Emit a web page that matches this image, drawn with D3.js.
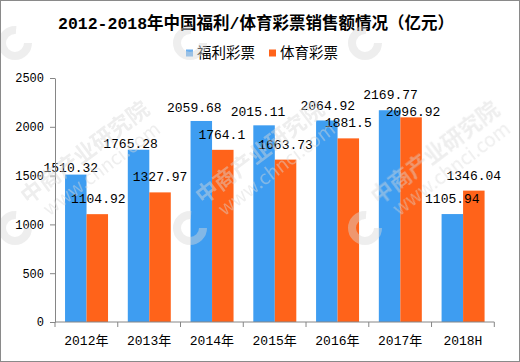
<!DOCTYPE html>
<html>
<head>
<meta charset="utf-8">
<script src="https://cdn.jsdelivr.net/npm/d3@7"></script>
<style>
  body { margin: 0; background: #fff; }
  text { font-family: "Liberation Mono", "Noto Sans CJK SC", monospace; fill: #000; }
  .cjk { font-family: "Noto Sans CJK SC", sans-serif; }
  .axis path, .axis line { stroke: #868686; }
  .wm text { fill: #d9d9d9; font-family: "Noto Sans CJK SC", sans-serif; }
</style>
</head>
<body>
<div id="chart"></div>
<script>
var years = ["2012年", "2013年", "2014年", "2015年", "2016年", "2017年", "2018H"];
var series = ["福利彩票", "体育彩票"];
var welfare = [1510.32, 1765.28, 2059.68, 2015.11, 2064.92, 2169.77, 1105.94];
var sports = [1104.92, 1327.97, 1764.1, 1663.73, 1881.5, 2096.92, 1346.04];
var yTicks = [0, 500, 1000, 1500, 2000, 2500];
var colors = ["#3e9df1", "#ff631a"];

// the original chart moved some value labels by hand, these are the nudges (px)
var welfareNudge = [[-5, 8], [-8, 9], [-7, 2], [-6, 2], [1, 0], [1, 0], [0, 0]];
var sportsNudge = [[1, 0], [0, 0], [-1, 0], [0, 0], [0, 0], [2, 10], [0, 0]];

var W = 520, H = 362;
var svg = d3.select("#chart").append("svg").attr("width", W).attr("height", H);

var x0 = d3.scaleBand().domain(years).range([55, 494.3]);
var bw = x0.bandwidth();
var x1 = d3.scaleBand().domain(series).range([bw * 0.16, bw * 0.845]);
var y = d3.scaleLinear().domain([0, 2500]).range([322, 78]);

// title + legend
svg.append("text").attr("x", 256).attr("y", 23).attr("dy", "0.35em")
  .attr("text-anchor", "middle").style("font-size", "16.5px").style("font-weight", "bold")
  .text("2012-2018年中国福利/体育彩票销售额情况（亿元）");

var legend = svg.append("g").selectAll("g").data(series).enter().append("g")
  .attr("transform", function(d, i) { return "translate(" + (186 + i * 83) + ",53)"; });
legend.append("rect").attr("x", 0).attr("y", -3.5).attr("width", 7).attr("height", 7)
  .attr("fill", function(d, i) { return i == 0 ? "#6aaeee" : colors[1]; });
legend.append("text").attr("class", "cjk").attr("x", 11).attr("dy", "0.36em")
  .style("font-size", "14.5px").text(function(d) { return d; });

// bars
var rows = years.map(function(yr, i) {
  return { year: yr, vals: [welfare[i], sports[i]], nudge: [welfareNudge[i], sportsNudge[i]] };
});

var groups = svg.append("g").selectAll("g").data(rows).enter().append("g")
  .attr("transform", function(d) { return "translate(" + x0(d.year) + ",0)"; });

groups.selectAll("rect").data(function(d) { return d.vals; }).enter().append("rect")
  .attr("x", function(d, i) { return x1(series[i]); })
  .attr("width", x1.bandwidth())
  .attr("y", function(d) { return y(d); })
  .attr("height", function(d) { return y(0) - y(d); })
  .attr("fill", function(d, i) { return colors[i]; });

// axes
var yAxis = svg.append("g").attr("class", "axis").attr("transform", "translate(55,0)")
  .call(d3.axisLeft(y).tickValues(yTicks).tickFormat(d3.format("d"))
    .tickSize(5).tickSizeOuter(0).tickPadding(6));
yAxis.selectAll("text").style("font-size", "12px").style("fill", "#000");

var xg = svg.append("g").attr("class", "axis");
xg.append("line").attr("x1", x0.range()[0]).attr("x2", x0.range()[1])
  .attr("y1", y(0)).attr("y2", y(0));
var edges = years.map(function(d) { return x0(d); }).concat([x0.range()[1]]);
xg.selectAll(".tk").data(edges).enter().append("line")
  .attr("x1", function(d) { return d; }).attr("x2", function(d) { return d; })
  .attr("y1", y(0)).attr("y2", y(0) + 5);
xg.selectAll("text").data(years).enter().append("text")
  .attr("x", function(d) { return x0(d) + bw / 2; }).attr("y", 340).attr("dy", "0.35em")
  .attr("text-anchor", "middle").style("font-size", "13px")
  .text(function(d) { return d; });

// value labels
groups.selectAll("text.val").data(function(d) {
    return d.vals.map(function(v, i) { return { v: v, i: i, n: d.nudge[i] }; });
  }).enter().append("text").attr("class", "val")
  .attr("x", function(d) { return x1(series[d.i]) + x1.bandwidth() / 2 + d.n[0]; })
  .attr("y", function(d) { return y(d.v) - 15.5 + d.n[1]; })
  .attr("dy", "0.35em").attr("text-anchor", "middle").style("font-size", "13px")
  .text(function(d) { return d.v; });

// faint watermark of the source (logos everywhere, words only where they fit)
var wm = svg.append("g").attr("class", "wm").style("opacity", 0.45);
var tiles = [];
[15, 190, 365].forEach(function(lx) { [43, 228, 413].forEach(function(ly) { tiles.push([lx, ly]); }); });
wm.selectAll("circle").data(tiles).enter().append("circle")
  .attr("cx", function(d) { return d[0]; }).attr("cy", function(d) { return d[1]; })
  .attr("r", 13).attr("fill", "none").attr("stroke", "#d9d9d9")
  .attr("stroke-width", 8).attr("stroke-dasharray", "62 20");
var lab = wm.selectAll("g").data(tiles.filter(function(d) { return d[1] == 228; }))
  .enter().append("g")
  .attr("transform", function(d) { return "translate(" + (d[0] + 13) + "," + (d[1] - 23) + ") rotate(-37)"; });
lab.append("text").attr("x", 0).attr("y", 0).style("font-size", "22px").style("font-weight", "bold")
  .text("中商产业研究院");
lab.append("text").attr("x", 10).attr("y", 22).style("font-size", "19px").text("www.chnci.com");

// outer frame
svg.append("rect").attr("x", 0.5).attr("y", 0.5).attr("width", W - 1).attr("height", H - 1)
  .attr("fill", "none").attr("stroke", "#8a8a8a");
</script>
</body>
</html>
